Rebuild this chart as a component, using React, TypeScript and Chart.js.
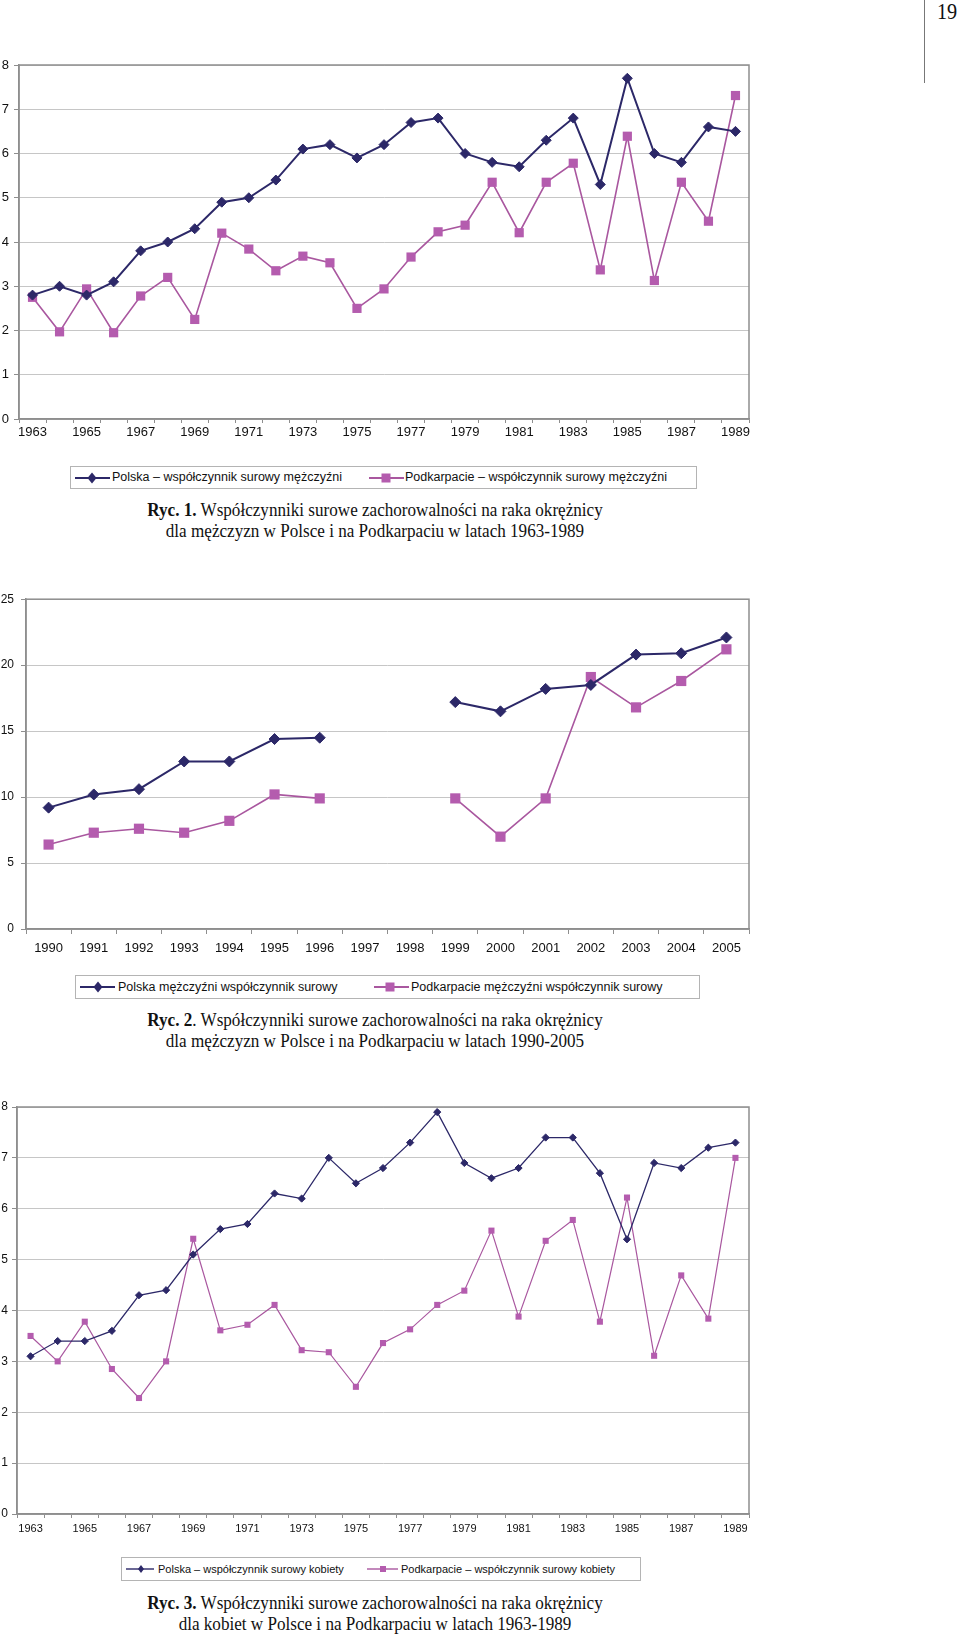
import React, { useEffect, useRef } from 'react';
import { Chart, registerables } from 'chart.js';

Chart.register(...registerables);

// ---------- DATA ----------
const years6389 = ['1963', '1964', '1965', '1966', '1967', '1968', '1969', '1970', '1971', '1972', '1973', '1974', '1975', '1976', '1977', '1978', '1979', '1980', '1981', '1982', '1983', '1984', '1985', '1986', '1987', '1988', '1989'];
const polskaM1 = [2.8, 3.0, 2.8, 3.1, 3.8, 4.0, 4.3, 4.9, 5.0, 5.4, 6.1, 6.2, 5.9, 6.2, 6.7, 6.8, 6.0, 5.8, 5.7, 6.3, 6.8, 5.3, 7.7, 6.0, 5.8, 6.6, 6.5];
const podkarpacieM1 = [2.75, 1.97, 2.94, 1.95, 2.78, 3.2, 2.25, 4.2, 3.84, 3.35, 3.68, 3.53, 2.5, 2.94, 3.66, 4.23, 4.38, 5.35, 4.21, 5.35, 5.78, 3.37, 6.39, 3.13, 5.35, 4.47, 7.31];
const legend1 = ['Polska – współczynnik surowy mężczyźni', 'Podkarpacie – współczynnik surowy mężczyźni'];

const years9005 = ['1990', '1991', '1992', '1993', '1994', '1995', '1996', '1997', '1998', '1999', '2000', '2001', '2002', '2003', '2004', '2005'];
const polskaM2 = [9.2, 10.2, 10.6, 12.7, 12.7, 14.4, 14.5, null, null, 17.2, 16.5, 18.2, 18.5, 20.8, 20.9, 22.1];
const podkarpacieM2 = [6.4, 7.3, 7.6, 7.3, 8.2, 10.2, 9.9, null, null, 9.9, 7.0, 9.9, 19.1, 16.8, 18.8, 21.2];
const legend2 = ['Polska mężczyźni współczynnik surowy', 'Podkarpacie mężczyźni współczynnik surowy'];

const polskaK3 = [3.1, 3.4, 3.4, 3.6, 4.3, 4.4, 5.1, 5.6, 5.7, 6.3, 6.2, 7.0, 6.5, 6.8, 7.3, 7.9, 6.9, 6.6, 6.8, 7.4, 7.4, 6.7, 5.4, 6.9, 6.8, 7.2, 7.3];
const podkarpacieK3 = [3.5, 3.0, 3.78, 2.85, 2.28, 3.0, 5.41, 3.61, 3.72, 4.11, 3.22, 3.18, 2.5, 3.36, 3.63, 4.11, 4.39, 5.57, 3.88, 5.37, 5.78, 3.78, 6.22, 3.11, 4.69, 3.84, 7.0];
const legend3 = ['Polska – współczynnik surowy kobiety', 'Podkarpacie – współczynnik surowy kobiety'];

const captions = [
  ['Ryc. 1.', ' Współczynniki surowe zachorowalności na raka okrężnicy', 'dla mężczyzn w Polsce i na Podkarpaciu w latach 1963-1989'],
  ['Ryc. 2', '. Współczynniki surowe zachorowalności na raka okrężnicy', 'dla mężczyzn w Polsce i na Podkarpaciu w latach 1990-2005'],
  ['Ryc. 3.', ' Współczynniki surowe zachorowalności na raka okrężnicy', 'dla kobiet w Polsce i na Podkarpaciu w latach 1963-1989'],
];

// ---------- STYLE ----------
const NAVY = '#2c2868';
const MAGENTA = '#b45cae';
const MAGENTA_LINE = '#a9579f';
const FRAME = '#8e8e8e';
const GRID = '#c6c6c6';
const SANS = '"Liberation Sans", Arial, sans-serif';
const SERIF = '"Liberation Serif", "Times New Roman", serif';

const framePlugin = {
  id: 'frame',
  beforeDatasetsDraw(chart: any) {
    const { ctx, chartArea } = chart;
    const { left, top, right, bottom } = chartArea;
    ctx.save();
    ctx.strokeStyle = FRAME;
    ctx.lineWidth = 1.5;
    ctx.strokeRect(left, top, right - left, bottom - top);
    ctx.restore();
  },
};

type ChartCfg = {
  top: number;
  height: number;
  padTop: number;
  yWidth: number;
  xHeight: number;
  labels: string[];
  a: (number | null)[];
  b: (number | null)[];
  names: string[];
  yMax: number;
  step: number;
  everyOther: boolean;
  yFont: number;
  xFont: number;
  yPad: number;
  xTick: number;
  xPad: number;
  lineA: number;
  lineB: number;
  rA: number;
  rB: number;
};

function LineChart({ cfg }: { cfg: ChartCfg }) {
  const ref = useRef<HTMLCanvasElement | null>(null);
  useEffect(() => {
    if (!ref.current) return;
    const chart = new Chart(ref.current, {
      type: 'line',
      data: {
        labels: cfg.labels,
        datasets: [
          {
            label: cfg.names[0],
            data: cfg.a,
            borderColor: NAVY,
            backgroundColor: NAVY,
            borderWidth: cfg.lineA,
            pointStyle: 'rectRot',
            pointRadius: cfg.rA,
            pointBorderWidth: 1,
            pointBorderColor: NAVY,
            pointBackgroundColor: NAVY,
            tension: 0,
            spanGaps: false,
            clip: false,
          },
          {
            label: cfg.names[1],
            data: cfg.b,
            borderColor: MAGENTA_LINE,
            backgroundColor: MAGENTA,
            borderWidth: cfg.lineB,
            pointStyle: 'rect',
            pointRadius: cfg.rB,
            pointBorderWidth: 0,
            pointBackgroundColor: MAGENTA,
            tension: 0,
            spanGaps: false,
            clip: false,
          },
        ],
      },
      options: {
        animation: false,
        responsive: false,
        maintainAspectRatio: false,
        layout: { padding: { left: 0, right: 760 - 749, top: cfg.padTop, bottom: 0 } },
        plugins: { legend: { display: false }, tooltip: { enabled: false }, title: { display: false } },
        scales: {
          x: {
            type: 'category',
            offset: true,
            grid: { display: true, drawOnChartArea: false, offset: true, tickLength: cfg.xTick, tickColor: FRAME },
            border: { display: true, color: FRAME, width: 1.5 },
            ticks: {
              autoSkip: false,
              maxRotation: 0,
              minRotation: 0,
              padding: cfg.xPad,
              color: '#111',
              font: { family: SANS, size: cfg.xFont },
              callback: (_v: any, i: number) => (cfg.everyOther && i % 2 === 1 ? '' : cfg.labels[i]),
            },
            afterFit: (s: any) => {
              s.height = cfg.xHeight;
            },
          },
          y: {
            min: 0,
            max: cfg.yMax,
            grid: { color: GRID, lineWidth: 1, tickLength: 5, tickColor: FRAME },
            border: { display: true, color: FRAME, width: 1.5 },
            ticks: {
              stepSize: cfg.step,
              padding: cfg.yPad,
              color: '#111',
              font: { family: SANS, size: cfg.yFont },
            },
            afterFit: (s: any) => {
              s.width = cfg.yWidth;
            },
          },
        },
      },
      plugins: [framePlugin],
    } as any);
    return () => chart.destroy();
  }, [cfg]);
  return (
    <canvas
      ref={ref}
      width={760}
      height={cfg.height}
      style={{ position: 'absolute', left: 0, top: cfg.top, width: 760, height: cfg.height }}
    />
  );
}

function Marker({ kind, x, size }: { kind: 'diamond' | 'square'; x: number; size: number }) {
  if (kind === 'diamond') {
    const h = size / 2;
    return <polygon points={`${x},${11 - h - 0.5} ${x + h - 0.5},11 ${x},${11 + h + 0.5} ${x - h + 0.5},11`} fill={NAVY} />;
  }
  return <rect x={x - size / 2} y={11 - size / 2} width={size} height={size} fill={MAGENTA} />;
}

type LegendCfg = {
  left: number;
  top: number;
  width: number;
  height: number;
  names: string[];
  items: { x1: number; x2: number; m: number; t: number }[];
  font: number;
  mA: number;
  mB: number;
  lw: number;
};

function Legend({ cfg }: { cfg: LegendCfg }) {
  const [i1, i2] = cfg.items;
  return (
    <div
      style={{
        position: 'absolute',
        left: cfg.left,
        top: cfg.top,
        width: cfg.width,
        height: cfg.height,
        border: '1px solid #b4b4b4',
        boxSizing: 'border-box',
      }}
    >
      <svg width={cfg.width} height={22} style={{ position: 'absolute', left: -1, top: (cfg.height - 22) / 2 - 1 }}>
        <line x1={i1.x1 - cfg.left} x2={i1.x2 - cfg.left} y1={11} y2={11} stroke={NAVY} strokeWidth={cfg.lw} />
        <Marker kind="diamond" x={i1.m - cfg.left} size={cfg.mA} />
        <line x1={i2.x1 - cfg.left} x2={i2.x2 - cfg.left} y1={11} y2={11} stroke={MAGENTA_LINE} strokeWidth={cfg.lw} />
        <Marker kind="square" x={i2.m - cfg.left} size={cfg.mB} />
      </svg>
      {cfg.names.map((n, k) => (
        <span
          key={k}
          style={{
            position: 'absolute',
            left: cfg.items[k].t - cfg.left - 1,
            top: 0,
            lineHeight: `${cfg.height - 2}px`,
            fontFamily: SANS,
            fontSize: cfg.font,
            color: '#111',
            whiteSpace: 'nowrap',
          }}
        >
          {n}
        </span>
      ))}
    </div>
  );
}

function Caption({ top, parts }: { top: number; parts: string[] }) {
  return (
    <div
      style={{
        position: 'absolute',
        left: 0,
        top,
        width: 750,
        textAlign: 'center',
        fontFamily: SERIF,
        fontSize: 19,
        lineHeight: '21px',
        color: '#111',
        transform: 'scaleX(0.9)',
        transformOrigin: '375px 0',
        whiteSpace: 'nowrap',
      }}
    >
      <div>
        <b>{parts[0]}</b>
        {parts[1]}
      </div>
      <div>{parts[2]}</div>
    </div>
  );
}

const chart1: ChartCfg = {
  top: 50, height: 390, padTop: 15, yWidth: 19, xHeight: 21,
  labels: years6389, a: polskaM1, b: podkarpacieM1, names: legend1,
  yMax: 8, step: 1, everyOther: true, yFont: 13, xFont: 13, yPad: 5, xTick: 4, xPad: 2,
  lineA: 2, lineB: 1.6, rA: 5, rB: 6.5,
};
const chart2: ChartCfg = {
  top: 585, height: 375, padTop: 11, yWidth: 26, xHeight: 31,
  labels: years9005, a: polskaM2, b: podkarpacieM2, names: legend2,
  yMax: 25, step: 5, everyOther: false, yFont: 12, xFont: 13, yPad: 7, xTick: 5, xPad: 7,
  lineA: 2, lineB: 1.6, rA: 5.5, rB: 7.2,
};
const chart3: ChartCfg = {
  top: 1095, height: 445, padTop: 12, yWidth: 17, xHeight: 26,
  labels: years6389, a: polskaK3, b: podkarpacieK3, names: legend3,
  yMax: 8, step: 1, everyOther: true, yFont: 12, xFont: 11, yPad: 4, xTick: 4, xPad: 4,
  lineA: 1.3, lineB: 1.2, rA: 3.6, rB: 4.3,
};

const leg1: LegendCfg = {
  left: 70, top: 466, width: 627, height: 23, names: legend1,
  items: [{ x1: 75, x2: 110, m: 92, t: 112 }, { x1: 369, x2: 404, m: 386, t: 405 }],
  font: 12.5, mA: 10, mB: 9, lw: 2,
};
const leg2: LegendCfg = {
  left: 75, top: 975, width: 625, height: 24, names: legend2,
  items: [{ x1: 80, x2: 115, m: 98, t: 118 }, { x1: 374, x2: 409, m: 390, t: 411 }],
  font: 12.5, mA: 10, mB: 9, lw: 2,
};
const leg3: LegendCfg = {
  left: 121, top: 1557, width: 520, height: 24, names: legend3,
  items: [{ x1: 126, x2: 154, m: 141, t: 158 }, { x1: 367, x2: 398, m: 383, t: 401 }],
  font: 11, mA: 7, mB: 6, lw: 1.4,
};

export default function App() {
  return (
    <div style={{ position: 'absolute', left: 0, top: 0, width: 960, height: 1635, background: '#fff', overflow: 'hidden' }}>
      <div style={{ position: 'absolute', left: 924, top: 0, width: 1, height: 83, background: '#777' }} />
      <div
        style={{
          position: 'absolute', left: 937, top: 0, fontFamily: SERIF, fontSize: 23, lineHeight: '24px', color: '#111',
          transform: 'scaleX(0.88)', transformOrigin: '0 0',
        }}
      >
        19
      </div>
      <LineChart cfg={chart1} />
      <Legend cfg={leg1} />
      <Caption top={499} parts={captions[0]} />
      <LineChart cfg={chart2} />
      <Legend cfg={leg2} />
      <Caption top={1009} parts={captions[1]} />
      <LineChart cfg={chart3} />
      <Legend cfg={leg3} />
      <Caption top={1592} parts={captions[2]} />
    </div>
  );
}
